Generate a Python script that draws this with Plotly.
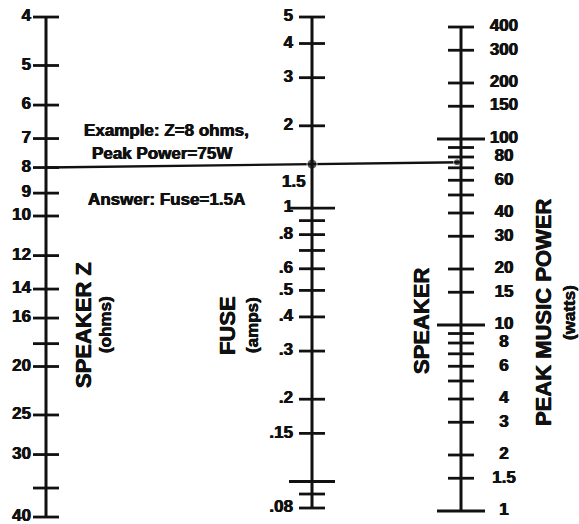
import math
import plotly.graph_objects as go

# ---------------- data: nomogram scale graduations ----------------
z_values = [4, 5, 6, 7, 8, 9, 10, 12, 14, 16, 18, 20, 25, 30, 35, 40]
z_labels = ["4", "5", "6", "7", "8", "9", "10", "12", "14", "16", "", "20", "25", "30", "", "40"]

fuse_values = [5, 4, 3, 2, 1, 0.9, 0.8, 0.7, 0.6, 0.5, 0.4, 0.3, 0.2, 0.15, 0.1, 0.09, 0.08]
fuse_labels = ["5", "4", "3", "2", "1", "", ".8", "", ".6", ".5", ".4", ".3", ".2", ".15", "", "", ".08"]
fuse_major = [1, 0.1]

power_values = [400, 300, 200, 150, 100, 90, 80, 70, 60, 50, 40, 30, 20, 15, 10,
                9, 8, 7, 6, 5, 4, 3, 2, 1.5, 1]
power_labels = ["400", "300", "200", "150", "100", "", "80", "", "60", "", "40", "30", "20", "15", "10",
                "", "8", "", "6", "", "4", "3", "2", "1.5", "1"]
power_major = [100, 10, 1]

example_z = 8
example_power = 75
example_fuse_label = "1.5"
example_lines = ["Example: Z=8 ohms,", "Peak Power=75W", "Answer: Fuse=1.5A"]

titles = {"z": ("SPEAKER Z", "(ohms)"), "fuse": ("FUSE", "(amps)"),
          "power_left": "SPEAKER", "power": ("PEAK MUSIC POWER", "(watts)")}

# ---------------- layout / style ----------------
W, H = 579, 524
XZ, XF, XP = 46, 312, 461          # horizontal positions of the three scales
Z_RANGE = [1.616, 0.568]           # log10 range (bottom, top) - reversed
P_RANGE = [-0.0699, 2.7473]
F_RANGE = [-1.1554, 0.7612]
INK = "#111111"
FONT = "Liberation Sans, Arial, sans-serif"
SHADOW = "0.4px 0 0 #111111, -0.4px 0 0 #111111"
TICK_HALF, MAJOR_HALF = 13, 24

fig = go.Figure()


def add_scale(x, values, yaxis, majors, major_half):
    fig.add_trace(go.Scatter(x=[x, x], y=[max(values), min(values)], yaxis=yaxis,
                             mode="lines", line=dict(color=INK, width=3),
                             hoverinfo="skip", showlegend=False))
    xs, ys = [], []
    for v in values:
        h = major_half if v in majors else TICK_HALF
        xs += [x - h, x + h, None]
        ys += [v, v, None]
    fig.add_trace(go.Scatter(x=xs, y=ys, yaxis=yaxis, mode="lines",
                             line=dict(color=INK, width=2.8),
                             hoverinfo="skip", showlegend=False))


def add_labels(x, values, labels, yaxis, pos):
    pairs = [(v, l) for v, l in zip(values, labels) if l]
    fig.add_trace(go.Scatter(x=[x] * len(pairs), y=[p[0] for p in pairs], yaxis=yaxis,
                             mode="text", text=["<b>%s</b>" % p[1] for p in pairs],
                             textposition=pos,
                             textfont=dict(family=FONT, size=17, color=INK, shadow=SHADOW),
                             hoverinfo="skip", showlegend=False))


add_scale(XZ, z_values, "y", [], TICK_HALF)
add_scale(XF, fuse_values, "y3", fuse_major, 23)
add_scale(XP, power_values, "y2", power_major, MAJOR_HALF)

add_labels(XZ - 15, z_values, z_labels, "y", "middle left")
add_labels(XF - 19, fuse_values, fuse_labels, "y3", "middle left")
add_labels(504, power_values, power_labels, "y2", "middle center")

# example isopleth: Z=8 ohms -> 75 W, drawn on the Z scale's axis
f_pow = (math.log10(example_power) - P_RANGE[0]) / (P_RANGE[1] - P_RANGE[0])
z_equiv_log = Z_RANGE[0] + f_pow * (Z_RANGE[1] - Z_RANGE[0])
t = (XF - XZ) / (XP - XZ)
z_cross_log = math.log10(example_z) + t * (z_equiv_log - math.log10(example_z))

fig.add_trace(go.Scatter(x=[XZ, XP], y=[example_z, 10 ** z_equiv_log], yaxis="y",
                         mode="lines", line=dict(color=INK, width=2.4),
                         hoverinfo="skip", showlegend=False))
fig.add_trace(go.Scatter(x=[XF, XP - 4], y=[10 ** z_cross_log, 10 ** z_equiv_log], yaxis="y",
                         mode="markers", marker=dict(color=INK, size=[10, 7], symbol="circle"),
                         hoverinfo="skip", showlegend=False))

annotations = [dict(text="<b>%s</b>" % example_fuse_label, x=XF - 4, y=z_cross_log,
                    xref="x", yref="y", showarrow=False, xanchor="right", yanchor="top",
                    yshift=-6, font=dict(family=FONT, size=17, color=INK, shadow=SHADOW))]

paper_annots = []
for txt, (x, y) in zip(example_lines, [(166, 130), (162, 153), (166, 200)]):
    paper_annots.append(dict(text="<b>%s</b>" % txt, x=x, y=y, xref="x", yref="paper",
                             showarrow=False,
                             font=dict(family=FONT, size=17, color=INK, shadow=SHADOW),
                             xanchor="center", yanchor="middle"))


def vtext(txt, x, y, size):
    paper_annots.append(dict(text="<b>%s</b>" % txt, x=x, y=y, xref="x", yref="paper",
                             showarrow=False, textangle=-90,
                             font=dict(family=FONT, size=size, color=INK, shadow=SHADOW),
                             xanchor="center", yanchor="middle"))


vtext(titles["z"][0], 83, 325, 22)
vtext(titles["z"][1], 105, 325, 17)
vtext(titles["fuse"][0], 227, 326, 22)
vtext(titles["fuse"][1], 252, 325, 17)
vtext(titles["power_left"], 421, 321, 22)
vtext(titles["power"][0], 543, 313, 22)
vtext(titles["power"][1], 569, 313, 17)

for a in paper_annots:
    a["y"] = 1 - a["y"] / H
annotations += paper_annots

fig.update_layout(
    width=W, height=H, margin=dict(l=0, r=0, t=0, b=0),
    paper_bgcolor="white", plot_bgcolor="white",
    xaxis=dict(range=[0, W], visible=False, fixedrange=True),
    yaxis=dict(type="log", range=Z_RANGE, visible=False, fixedrange=True),
    yaxis2=dict(type="log", range=P_RANGE, visible=False, overlaying="y", fixedrange=True),
    yaxis3=dict(type="log", range=F_RANGE, visible=False, overlaying="y", fixedrange=True),
    annotations=annotations,
    showlegend=False,
    hovermode=False,
)

fig.write_html("out.html",
               config={"displayModeBar": False, "staticPlot": True},
               post_script="document.body.style.margin='0';document.body.style.overflow='hidden';")
